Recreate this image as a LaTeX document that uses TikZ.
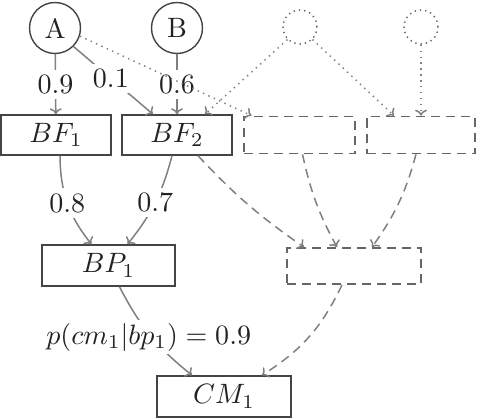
\documentclass[tikz,border=0pt]{standalone}
\usepackage{graphicx}
\usetikzlibrary{arrows.meta}
\definecolor{edgegray}{HTML}{808080}
\definecolor{boxgray}{HTML}{444444}
\definecolor{dashgray}{HTML}{666666}
\definecolor{txt}{HTML}{222222}
\newcommand{\bigtxt}[1]{\scalebox{2.8}{#1}}
\begin{document}
\begin{tikzpicture}[x=1pt,y=-1pt,
  every node/.style={font=\fontsize{10}{12}\selectfont, text=txt},
  box/.style={draw=boxgray, line width=1.5pt, minimum width=110pt, minimum height=40pt, inner sep=0pt},
  dbox/.style={draw=dashgray, line width=1.7pt, dash pattern=on 9pt off 6pt, minimum height=37pt, inner sep=0pt},
  circ/.style={circle, draw=boxgray, line width=1.4pt, minimum size=51pt, inner sep=0pt},
  dcirc/.style={circle, draw=dashgray, line width=1.5pt, dash pattern=on 1.3pt off 4pt, minimum size=34pt, inner sep=0pt},
  edg/.style={draw=edgegray, line width=1.5pt, -{To[length=6pt,width=12pt]}},
  dedg/.style={edg, dash pattern=on 9pt off 6pt},
  dotedg/.style={edg, dash pattern=on 1.4pt off 4.5pt},
  lbl/.style={fill=white, inner sep=5pt}]
\useasboundingbox (0,0) rectangle (477,420);

\node[circ] (A) at (55,28) {\bigtxt{A}};
\node[circ] (B) at (177,28) {\bigtxt{B}};
\node[dcirc] (C) at (300,27) {};
\node[dcirc] (D) at (421,27) {};

\node[box] (BF1) at (56,135) {\bigtxt{$BF_1$}};
\node[box] (BF2) at (177,135) {\bigtxt{$BF_2$}};
\node[dbox, minimum width=111pt] (X3) at (299.5,135) {};
\node[dbox, minimum width=108pt] (X4) at (421,135) {};

\node[box, minimum width=133pt, minimum height=41pt] (BP1) at (108.5,265.5) {\bigtxt{$BP_1$}};
\node[dbox, minimum width=134pt, minimum height=36pt] (X5) at (354,266) {};
\node[box, minimum width=134pt, minimum height=41pt] (CM1) at (224,396.5) {\bigtxt{$CM_1$}};

% solid edges
\draw[edg] (A) -- node[lbl] {\bigtxt{0.9}} (BF1);
\draw[edg] (A.-45) -- node[lbl, pos=0.47] {\bigtxt{0.1}} ([xshift=-24]BF2.north);
\draw[edg] (B) -- node[lbl] {\bigtxt{0.6}} (BF2);
\draw[edg] ([xshift=4]BF1.south) to[bend right=19] node[lbl] {\bigtxt{0.8}} ([xshift=-17]BP1.north);
\draw[edg] ([xshift=-5]BF2.south) to[bend left=12] node[lbl] {\bigtxt{0.7}} ([xshift=19]BP1.north);
\draw[edg] ([xshift=11]BP1.south) to[bend right=12] node[lbl, pos=0.52, inner sep=3pt, xshift=-3pt] {\bigtxt{$p(cm_1|bp_1)=0.9$}} ([xshift=-32]CM1.north);

% dotted edges
\draw[dotedg] (A.-18) -- ([xshift=-48]X3.north);
\draw[dotedg] (C.-135) -- ([xshift=28]BF2.north);
\draw[dotedg] (C.-45) -- ([xshift=-27]X4.north);
\draw[dotedg] (D) -- (X4);

% dashed edges
\draw[dedg] ([xshift=21]BF2.south) to[bend right=6] ([xshift=-50]X5.north);
\draw[dedg] ([xshift=3]X3.south) to[bend right=8] ([xshift=-17]X5.north);
\draw[dedg] ([xshift=-5]X4.south) to[bend left=10] ([xshift=18]X5.north);
\draw[dedg] ([xshift=-12]X5.south) to[bend left=16] ([xshift=38]CM1.north);
\end{tikzpicture}
\end{document}
